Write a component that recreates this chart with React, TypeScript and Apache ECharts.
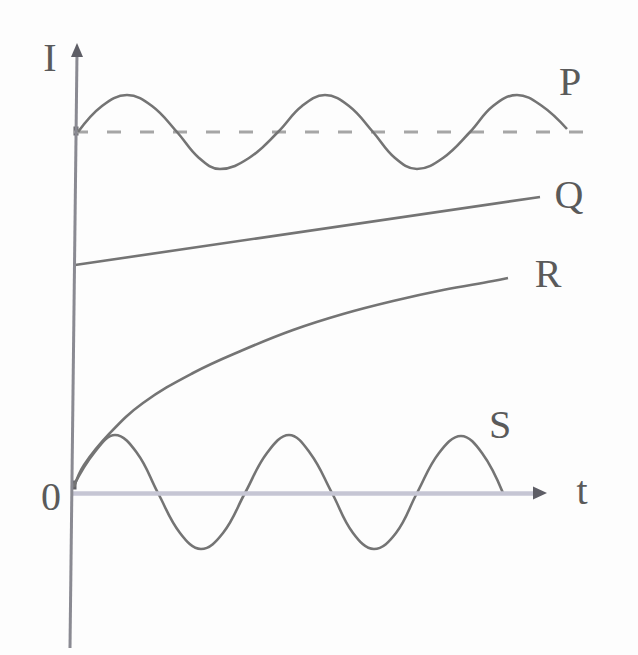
import React, { useEffect, useRef } from "react";
import * as echarts from "echarts";

// t (horizontal) and I (vertical) values
const pWave: [number, number][] = [
  [0.3, 18.05], [1.5, 19.35], [2.75, 19.9], [4.0, 19.35], [5.25, 18.05],
  [6.35, 16.75], [7.4, 16.2], [8.85, 16.75], [10.3, 18.05], [11.5, 19.35],
  [12.65, 19.9], [13.85, 19.35], [15.05, 18.05], [16.15, 16.75], [17.25, 16.2],
  [18.55, 16.75], [19.9, 18.05], [21.05, 19.35], [22.25, 19.9], [23.5, 19.35],
  [24.75, 18.2],
];
const pMean: [number, number][] = [[0.1, 18.05], [26.15, 18.05]];
const qLine: [number, number][] = [[0.15, 11.4], [23.4, 14.8]];
const rCurve: [number, number][] = [
  [0.1, 0.3], [0.6, 1.4], [1.9, 3.0], [3.55, 4.5], [6.05, 6.0], [8.55, 7.15],
  [11.05, 8.15], [13.55, 8.95], [16.05, 9.6], [18.55, 10.15], [21.05, 10.6],
  [21.8, 10.75],
];
const sWave: [number, number][] = [
  [0.05, 0.3], [1.1, 2.0], [2.15, 2.9], [3.25, 2.0], [4.3, 0], [5.4, -2.0],
  [6.45, -2.8], [7.55, -2.0], [8.65, 0], [9.75, 2.0], [10.85, 2.9], [11.9, 2.0],
  [13.0, 0], [14.05, -2.0], [15.1, -2.8], [16.2, -2.0], [17.25, 0], [18.35, 2.0],
  [19.45, 2.85], [20.5, 2.0], [21.55, 0],
];
const junctions: [number, number][] = [[0.2, 18.1], [0.1, 0.4]];
const xAxisEnd = 23.3;
const yAxisTop: [number, number] = [0.25, 22.0];
const yAxisBottom: [number, number] = [-0.1, -7.75];

const curveStyle = { color: "#747474", width: 2.6 };

export default function App() {
  const ref = useRef<HTMLDivElement>(null);
  useEffect(() => {
    if (!ref.current) return;
    const chart = echarts.init(ref.current, undefined, { renderer: "svg" });
    const font = "'Liberation Serif', 'DejaVu Serif', serif";
    const label = (text: string, x: number, y: number) => ({
      type: "text",
      x,
      y,
      style: {
        text,
        fill: "#5a5a5a",
        font: `40px ${font}`,
        textAlign: "center",
        textVerticalAlign: "middle",
      },
    });
    chart.setOption({
      animation: false,
      backgroundColor: "#fdfdfd",
      grid: { left: 52, top: 33, width: 548, height: 620 },
      xAxis: { type: "value", min: -1, max: 26.4, show: false },
      yAxis: { type: "value", min: -8, max: 23, show: false },
      series: [
        {
          type: "line",
          data: [],
          silent: true,
          markLine: {
            silent: true,
            symbol: ["none", "none"],
            label: { show: false },
            data: [
              [
                { coord: [0, 0], lineStyle: { color: "#c6c6d4", width: 4.5, type: "solid" } },
                { coord: [xAxisEnd, 0] },
              ],
              [
                { coord: yAxisBottom, lineStyle: { color: "#8a8a92", width: 3, type: "solid" } },
                { coord: yAxisTop },
              ],
            ],
          },
          markPoint: {
            silent: true,
            label: { show: false },
            data: [
              { coord: [xAxisEnd + 0.1, 0], symbol: "triangle", symbolSize: [13, 14], symbolRotate: -90, itemStyle: { color: "#5e5e66" } },
              { coord: [yAxisTop[0], yAxisTop[1] + 0.15], symbol: "triangle", symbolSize: [12, 14], itemStyle: { color: "#5e5e66" } },
            ],
          },
        },
        {
          type: "line",
          data: pMean,
          showSymbol: false,
          lineStyle: { color: "#a6a6a6", width: 3, type: [14, 19] },
        },
        { type: "line", data: pWave, smooth: 0.4, showSymbol: false, lineStyle: curveStyle },
        { type: "line", data: qLine, showSymbol: false, lineStyle: curveStyle },
        { type: "line", data: rCurve, smooth: 0.4, showSymbol: false, lineStyle: curveStyle },
        { type: "line", data: sWave, smooth: 0.4, showSymbol: false, lineStyle: curveStyle },
        {
          type: "scatter",
          data: junctions,
          symbol: "rect",
          symbolSize: [5, 9],
          itemStyle: { color: "#3a3a40" },
          silent: true,
        },
      ],
      graphic: [
        label("I", 50, 57),
        label("P", 570, 81),
        label("Q", 569, 194),
        label("R", 548, 273),
        label("S", 500, 424),
        label("0", 51, 496),
        label("t", 582, 490),
      ],
    });
    return () => chart.dispose();
  }, []);
  return (
    <div
      ref={ref}
      style={{ position: "fixed", left: 0, top: 0, width: 638, height: 655 }}
    />
  );
}
